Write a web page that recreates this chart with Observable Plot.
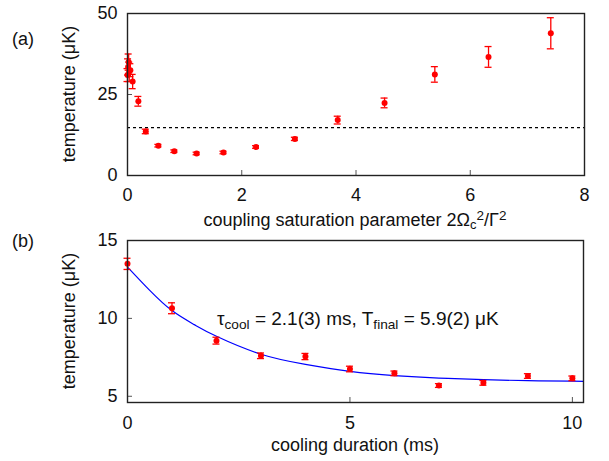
<!DOCTYPE html>
<html>
<head>
<meta charset="utf-8">
<script src="https://cdn.jsdelivr.net/npm/d3@7"></script>
<script src="https://cdn.jsdelivr.net/npm/@observablehq/plot@0.6"></script>
<style>
  html, body { margin: 0; padding: 0; background: #fff; }
  #chart { width: 609px; height: 461px; position: relative; }
  #chart svg { display: block; font-family: "Liberation Sans", Arial, sans-serif; }
</style>
</head>
<body>
<div id="chart"></div>
<script>
// Panel (a): temperature vs coupling saturation parameter
const satParam = [0.00, 0.01, 0.02, 0.03, 0.05, 0.09, 0.19, 0.32, 0.54, 0.82, 1.21, 1.68, 2.25, 2.93, 3.68, 4.50, 5.38, 6.32, 7.41];
const tempA    = [31.0, 33.5, 35.0, 32.0, 32.5, 29.0, 22.9, 13.6, 9.2, 7.5, 6.8, 7.1, 8.8, 11.3, 17.1, 22.4, 31.2, 36.6, 43.9];
const errA     = [2.0, 2.5, 2.5, 3.0, 2.0, 2.2, 1.5, 0.7, 0.4, 0.4, 0.4, 0.4, 0.4, 0.5, 1.2, 1.5, 2.4, 3.2, 4.8];
const refTemp  = 14.8;
const ticksAx  = [0, 2, 4, 6, 8];
const ticksAy  = [0, 25, 50];

// Panel (b): temperature vs cooling duration
const duration = [0, 1, 2, 3, 4, 5, 6, 7, 8, 9, 10];
const tempB    = [13.5, 10.65, 8.57, 7.6, 7.55, 6.75, 6.47, 5.69, 5.86, 6.3, 6.15];
const errB     = [0.36, 0.35, 0.22, 0.18, 0.2, 0.18, 0.15, 0.12, 0.15, 0.15, 0.15];
// fitted curve
const fitT     = [0, 0.5, 1, 1.5, 2, 3, 4, 5, 6, 7, 8, 9, 10, 10.25];
const fitTemp  = [13.3, 11.8, 10.5, 9.6, 8.85, 7.7, 7.05, 6.6, 6.33, 6.17, 6.07, 6.0, 5.97, 5.96];
const ticksBx  = [0, 5, 10];
const ticksBy  = [5, 10, 15];

const dataA = satParam.map((x, i) => ({x, y: tempA[i], e: errA[i]}));
const dataB = duration.map((x, i) => ({x, y: tempB[i], e: errB[i]}));
const fitB  = fitT.map((x, i) => ({x, y: fitTemp[i]}));

const RED = "#ff0000";
const FONT = 18;

function errorMarks(data) {
  return [
    Plot.ruleX(data, {x: "x", y1: d => d.y - d.e, y2: d => d.y + d.e, stroke: RED, strokeWidth: 1.3}),
    Plot.ruleY(data, {y: d => d.y - d.e, x1: "x", x2: "x", insetLeft: -3.5, insetRight: -3.5, stroke: RED, strokeWidth: 1.3}),
    Plot.ruleY(data, {y: d => d.y + d.e, x1: "x", x2: "x", insetLeft: -3.5, insetRight: -3.5, stroke: RED, strokeWidth: 1.3}),
    Plot.dot(data, {x: "x", y: "y", r: 3, fill: RED, stroke: "none"})
  ];
}

function axes(xt, yt, xPad) {
  return [
    Plot.axisX({ticks: xt, tickSize: -5, tickPadding: xPad, stroke: "#555", fill: "#111", fontSize: FONT, label: null}),
    Plot.axisY({ticks: yt, tickSize: -5, tickPadding: 15, stroke: "#555", fill: "#111", fontSize: FONT, label: null}),
    Plot.frame({stroke: "#222", strokeWidth: 1.4})
  ];
}

const plotA = Plot.plot({
  width: 609, height: 230,
  marginLeft: 127, marginRight: 25, marginTop: 13, marginBottom: 55,
  x: {domain: [0, 8]},
  y: {domain: [0, 50]},
  style: {fontFamily: "Liberation Sans, Arial, sans-serif", fontSize: FONT + "px", overflow: "visible"},
  marks: [
    Plot.ruleY([refTemp], {stroke: "#000", strokeWidth: 1.2, strokeDasharray: "3,3"}),
    ...errorMarks(dataA),
    ...axes(ticksAx, ticksAy, 18)
  ]
});

const plotB = Plot.plot({
  width: 609, height: 231,
  marginLeft: 127, marginRight: 26, marginTop: 10, marginBottom: 59,
  x: {domain: [0, 10.25]},
  y: {domain: [4.6, 15]},
  style: {fontFamily: "Liberation Sans, Arial, sans-serif", fontSize: FONT + "px", overflow: "visible"},
  marks: [
    Plot.line(fitB, {x: "x", y: "y", stroke: "#0000ff", strokeWidth: 1.2, curve: "natural"}),
    ...errorMarks(dataB),
    ...axes(ticksBx, ticksBy, 19)
  ]
});

const chart = document.getElementById("chart");
chart.appendChild(plotA);
chart.appendChild(plotB);

function addText(svg, x, y, parts, opts = {}) {
  const t = d3.select(svg).append("text")
    .attr("x", x).attr("y", y)
    .attr("font-size", opts.size || FONT)
    .attr("fill", "#111")
    .attr("text-anchor", opts.anchor || "middle");
  if (opts.rotate) t.attr("transform", `rotate(${opts.rotate} ${x} ${y})`);
  for (const p of parts) {
    const s = typeof p === "string" ? {t: p} : p;
    const ts = t.append("tspan").text(s.t);
    if (s.sub) ts.attr("baseline-shift", "-25%").attr("font-size", "0.72em");
    if (s.sup) ts.attr("baseline-shift", "45%").attr("font-size", "0.75em");
  }
  return t;
}

// Panel (a) texts
addText(plotA, 12, 45, ["(a)"], {anchor: "start"});
addText(plotA, 75, 94, ["temperature (\u03bcK)"], {rotate: -90});
addText(plotA, 355, 226, ["coupling saturation parameter 2\u03a9", {t: "c", sub: true}, {t: "2", sup: true}, "/\u0393", {t: "2", sup: true}]);

// Panel (b) texts
addText(plotB, 12, 17, ["(b)"], {anchor: "start"});
addText(plotB, 75, 91, ["temperature (\u03bcK)"], {rotate: -90});
addText(plotB, 355, 221, ["cooling duration (ms)"]);
addText(plotB, 217, 95, ["\u03c4", {t: "cool", sub: true}, " = 2.1(3) ms, T", {t: "final", sub: true}, " = 5.9(2) \u03bcK"], {anchor: "start", size: 19});
</script>
</body>
</html>
